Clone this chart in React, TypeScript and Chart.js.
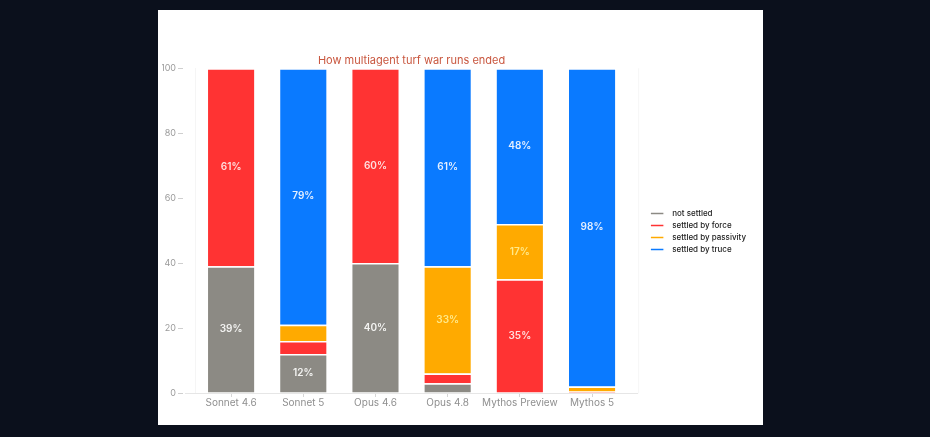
import React, { useEffect, useRef } from 'react';
import { Chart, registerables } from 'chart.js';

Chart.register(...registerables);

const MODELS = ['Sonnet 4.6', 'Sonnet 5', 'Opus 4.6', 'Opus 4.8', 'Mythos Preview', 'Mythos 5'];
const NOT_SETTLED = [39, 12, 40, 3, 0, 0];
const BY_FORCE = [61, 4, 60, 3, 35, 0.5];
const BY_PASSIVITY = [0, 5, 0, 33, 17, 1.5];
const BY_TRUCE = [0, 79, 0, 61, 48, 98];
const Y_TICKS = [0, 20, 40, 60, 80, 100];

const FONT = 'Inter, "DejaVu Sans", sans-serif';
const LEGEND_SHIFT = 18;

// draws the percent inside each segment that is big enough
const segmentLabels = {
  id: 'segmentLabels',
  afterDatasetsDraw(chart: Chart) {
    const { ctx } = chart;
    ctx.save();
    ctx.font = `600 10px ${FONT}`;
    ctx.textAlign = 'center';
    ctx.textBaseline = 'middle';
    chart.data.datasets.forEach((ds, i) => {
      const meta = chart.getDatasetMeta(i);
      meta.data.forEach((bar: any, j) => {
        const v = ds.data[j] as number;
        if (v < 10) return;
        ctx.fillStyle = (ds as any).labelColor || '#ffffff';
        ctx.fillText(`${Math.round(v)}%`, bar.x, (bar.y + bar.base) / 2);
      });
    });
    ctx.restore();
  },
};

// offset axis line, faint right edge and y tick dashes; legend pushed away from the plot
const frame = {
  id: 'frame',
  afterLayout(chart: any) {
    if (chart.legend) {
      chart.legend.left += LEGEND_SHIFT;
      chart.legend.right += LEGEND_SHIFT;
    }
  },
  beforeDatasetsDraw(chart: Chart) {
    const { ctx, chartArea: a } = chart;
    const y = chart.scales.y;
    ctx.save();
    ctx.lineWidth = 1;
    ctx.strokeStyle = '#e6e6e6';
    ctx.beginPath();
    ctx.moveTo(a.left - 10, a.bottom + 0.5);
    ctx.lineTo(a.right + 10, a.bottom + 0.5);
    ctx.stroke();
    ctx.strokeStyle = 'rgba(0,0,0,0.04)';
    ctx.beginPath();
    ctx.moveTo(a.right + 10.5, a.top);
    ctx.lineTo(a.right + 10.5, a.bottom);
    ctx.stroke();
    ctx.strokeStyle = '#cfcfcf';
    Y_TICKS.forEach((v) => {
      const py = Math.round(y.getPixelForValue(v)) + 0.5;
      ctx.beginPath();
      ctx.moveTo(a.left - 17, py);
      ctx.lineTo(a.left - 12, py);
      ctx.stroke();
    });
    ctx.restore();
  },
};

const App: React.FC = () => {
  const canvasRef = useRef<HTMLCanvasElement>(null);

  useEffect(() => {
    if (!canvasRef.current) return;
    const seg = (label: string, data: number[], color: string, labelColor: string) => ({
      label,
      data,
      backgroundColor: color,
      borderColor: '#ffffff',
      borderWidth: 1.5,
      labelColor,
    });
    const defaultLabels = Chart.defaults.plugins.legend.labels.generateLabels;
    const chart = new Chart(canvasRef.current, {
      type: 'bar',
      data: {
        labels: MODELS,
        datasets: [
          seg('not settled', NOT_SETTLED, '#8c8a84', '#f4f4f2'),
          seg('settled by force', BY_FORCE, '#ff3333', '#ffe0e0'),
          seg('settled by passivity', BY_PASSIVITY, '#ffaa00', '#ffe98a'),
          seg('settled by truce', BY_TRUCE, '#0a7aff', '#e6f0ff'),
        ] as any,
      },
      options: {
        animation: false,
        responsive: true,
        maintainAspectRatio: false,
        layout: { padding: { top: 44, left: 4, right: 25, bottom: 16 } },
        datasets: { bar: { barPercentage: 0.85, categoryPercentage: 0.8 } },
        scales: {
          x: {
            stacked: true,
            grid: { color: 'rgba(0,0,0,0)', tickColor: '#d6d6d6', tickLength: 4, offset: false },
            border: { display: false },
            ticks: {
              color: '#8f8f8f',
              font: { family: FONT, size: 10 },
              padding: 0,
              maxRotation: 0,
              autoSkip: false,
            },
          },
          y: {
            stacked: true,
            min: 0,
            max: 100,
            afterBuildTicks: (axis: any) => {
              axis.ticks = Y_TICKS.map((v) => ({ value: v }));
            },
            afterFit: (s: any) => {
              s.width = 33;
            },
            grid: { color: 'rgba(0,0,0,0)', drawTicks: false },
            border: { color: 'rgba(0,0,0,0.04)' },
            ticks: { color: '#9a9a9a', font: { family: FONT, size: 9 }, padding: 19 },
          },
        },
        plugins: {
          title: {
            display: true,
            text: 'How multiagent turf war runs ended',
            color: '#c9573f',
            fullSize: false,
            font: { family: FONT, size: 11, weight: 'normal' },
            padding: { top: 0, bottom: 1 },
          },
          legend: {
            position: 'right',
            labels: {
              boxWidth: 14,
              boxHeight: 3,
              padding: 4,
              color: '#222222',
              font: { family: FONT, size: 8, weight: 500 },
              generateLabels: (c: Chart) =>
                defaultLabels(c).map((l: any) => ({ ...l, text: '\u2002' + l.text })),
            },
          },
          tooltip: { enabled: false },
        },
      },
      plugins: [frame, segmentLabels],
    });
    return () => chart.destroy();
  }, []);

  return (
    <div style={{ position: 'fixed', inset: 0, background: '#0b101c' }}>
      <div
        style={{
          position: 'absolute',
          left: 158,
          top: 10,
          width: 605,
          height: 415,
          background: '#ffffff',
        }}
      >
        <canvas ref={canvasRef}></canvas>
      </div>
    </div>
  );
};

export default App;
